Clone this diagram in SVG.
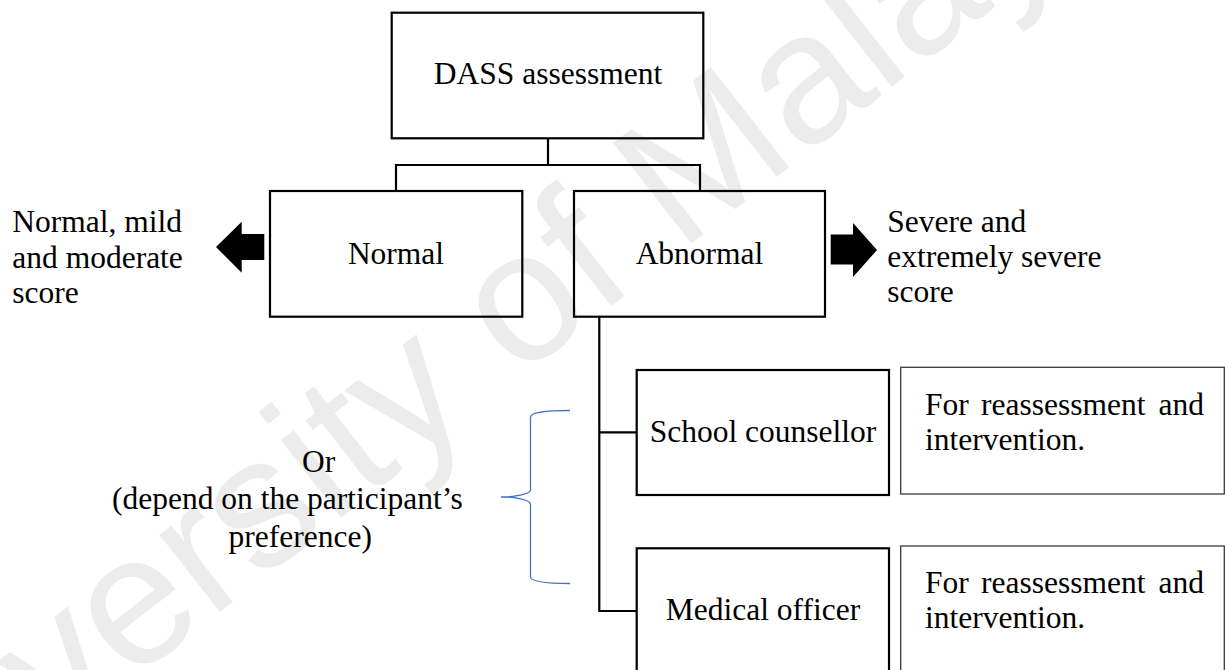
<svg xmlns="http://www.w3.org/2000/svg" width="1225" height="670" viewBox="0 0 1225 670">
  <style>
    .bg { fill: #ffffff; }
    .mark { font-family: "Liberation Sans", Arial, sans-serif; font-size: 185px; fill: #ececec; }
    .box { fill: none; stroke: #000000; stroke-width: 2.2; }
    .note { fill: none; stroke: #3a3a3a; stroke-width: 1.3; }
    .wire { fill: none; stroke: #000000; stroke-width: 2.2; }
    .brace { fill: none; stroke: #4472c4; stroke-width: 1.3; }
    .lbl { font-family: "Liberation Serif", "Times New Roman", serif; font-size: 31.5px; fill: #000000; }
    .mid { text-anchor: middle; }
    .arrow { fill: #000000; }
  </style>

  <rect class="bg" x="0" y="0" width="1225" height="670"/>

  <!-- repository watermark -->
  <text class="mark" transform="translate(-163,911) rotate(-38)">University of Malaya</text>

  <!-- connectors -->
  <g id="connectors">
    <path class="wire" d="M548,138 V165 M396,165 H700 M396,164 V191 M700,164 V191"/>
    <path class="wire" d="M599.3,317 V612 M598.2,432.3 H637 M598.2,611 H637"/>
    <path class="brace" d="M570,410.5 C549,410.5 531,411.5 530.5,417 L530.5,490 C530,494.5 514,497 501,497 C514,497 530,499.5 530.5,504 L530.5,577 C531,582.5 549,583.5 570,583.5"/>
  </g>

  <g id="dass">
    <rect class="box" x="391.7" y="12.7" width="311.6" height="125.6"/>
    <text class="lbl mid" x="548" y="84">DASS assessment</text>
  </g>

  <g id="normal">
    <rect class="box" x="270" y="191" width="252.3" height="125.7"/>
    <text class="lbl mid" x="396" y="263.5">Normal</text>
  </g>

  <g id="abnormal">
    <rect class="box" x="574" y="191" width="251" height="125.7"/>
    <text class="lbl mid" x="699.5" y="263.5">Abnormal</text>
  </g>

  <g id="normal-score">
    <polygon class="arrow" points="264.3,234 241.7,234 241.7,221.7 216,247 241.7,272.7 241.7,260 264.3,260"/>
    <text class="lbl" x="12.3" y="231.5">Normal, mild</text>
    <text class="lbl" x="12.3" y="267.5">and moderate</text>
    <text class="lbl" x="12.3" y="303">score</text>
  </g>

  <g id="severe-score">
    <polygon class="arrow" points="830.7,234.5 853,234.5 853,223 877,250 853,277 853,264.5 830.7,264.5"/>
    <text class="lbl" x="887.3" y="231.5">Severe and</text>
    <text class="lbl" x="887.3" y="267">extremely severe</text>
    <text class="lbl" x="887.3" y="302">score</text>
  </g>

  <g id="choice">
    <text class="lbl" x="302" y="472">Or</text>
    <text class="lbl" x="112" y="509">(depend on the participant’s</text>
    <text class="lbl" x="228.5" y="546.5">preference)</text>
  </g>

  <g id="counsellor">
    <rect class="box" x="636.7" y="370" width="252.3" height="125"/>
    <text class="lbl mid" x="763" y="441.7">School counsellor</text>
  </g>

  <g id="counsellor-note">
    <rect class="note" x="900.7" y="367.3" width="323.6" height="126.7"/>
    <text class="lbl" y="415"><tspan x="925">For</tspan><tspan x="981">reassessment</tspan><tspan x="1158.5">and</tspan></text>
    <text class="lbl" x="925" y="450">intervention.</text>
  </g>

  <g id="medical">
    <rect class="box" x="636.7" y="548.3" width="252.3" height="125.5"/>
    <text class="lbl mid" x="763" y="620">Medical officer</text>
  </g>

  <g id="medical-note">
    <rect class="note" x="900.7" y="546" width="323.6" height="128"/>
    <text class="lbl" y="593.3"><tspan x="925">For</tspan><tspan x="981">reassessment</tspan><tspan x="1158.5">and</tspan></text>
    <text class="lbl" x="925" y="628.3">intervention.</text>
  </g>
</svg>
